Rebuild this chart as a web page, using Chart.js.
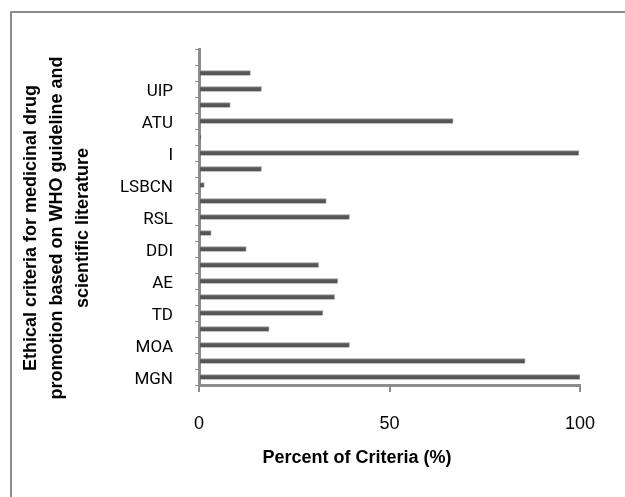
<!DOCTYPE html>
<html>
<head>
<meta charset="utf-8">
<script src="https://cdn.jsdelivr.net/npm/chart.js@4/dist/chart.umd.min.js"></script>
<style>
  html, body { margin: 0; padding: 0; background: #fff; overflow: hidden; }
  #wrap { position: relative; width: 625px; height: 497px; }
</style>
</head>
<body>
<div id="wrap"><canvas id="chart" width="625" height="497"></canvas></div>
<script>
// categories from top to bottom (unlabelled rows are skipped by the source chart)
const criteria = ['', '', 'UIP', '', 'ATU', '', 'I', '', 'LSBCN', '', 'RSL', '', 'DDI', '', 'AE', '', 'TD', '', 'MOA', '', 'MGN'];
const percentValues = [null, 13.5, 16.4, 8.2, 66.7, 0.5, 99.7, 16.4, 1.4, 33.4, 39.5, 3.2, 12.4, 31.4, 36.4, 35.6, 32.5, 18.4, 39.5, 85.6, 100];
const xTicks = [0, 50, 100];

const yTitle = ['Ethical criteria for medicinal drug', 'promotion based on WHO guideline and', 'scientific literature'];
const xTitle = 'Percent of Criteria (%)';

// frame (only top and left edges are inside the picture) and axis titles
const decorations = {
    id: 'decorations',
    beforeDraw(chart) {
        const ctx = chart.ctx;
        ctx.save();
        ctx.strokeStyle = '#8c8c8c';
        ctx.lineWidth = 2;
        ctx.beginPath();
        ctx.moveTo(11, 497);
        ctx.lineTo(11, 12);
        ctx.lineTo(625, 12);
        ctx.stroke();
        ctx.restore();
    },
    afterDraw(chart) {
        const ctx = chart.ctx;
        ctx.save();
        ctx.fillStyle = '#000';
        ctx.font = 'bold 18px "Liberation Sans", Arial, sans-serif';
        ctx.textAlign = 'center';
        ctx.textBaseline = 'middle';
        ctx.fillText(xTitle, 357, 458);
        const lineX = [31, 57, 83];
        yTitle.forEach((line, i) => {
            ctx.save();
            ctx.translate(lineX[i], 228);
            ctx.rotate(-Math.PI / 2);
            ctx.fillText(line, 0, 0);
            ctx.restore();
        });
        ctx.restore();
    }
};

const ctx = document.getElementById('chart').getContext('2d');
new Chart(ctx, {
    type: 'bar',
    data: {
        labels: criteria,
        datasets: [{
            data: percentValues,
            backgroundColor: '#555555',
            borderColor: '#9a9a9a',
            borderWidth: { top: 1, bottom: 0, left: 0, right: 1 },
            borderSkipped: false,
            barThickness: 5,
        }],
    },
    options: {
        indexAxis: 'y',
        responsive: false,
        animation: false,
        layout: { padding: { left: 0, top: 49, right: 45, bottom: 0 } },
        plugins: {
            legend: { display: false },
            tooltip: { enabled: false },
        },
        scales: {
            x: {
                min: 0,
                max: 100,
                afterBuildTicks: (scale) => { scale.ticks = xTicks.map(v => ({ value: v })); },
                afterFit: (scale) => { scale.height = 497 - 385; },
                grid: { drawOnChartArea: false, tickLength: 7, color: '#8c8c8c', lineWidth: 2 },
                border: { color: '#8c8c8c', width: 3 },
                ticks: {
                    color: '#000',
                    padding: 21,
                    font: { family: '"Liberation Sans", Arial, sans-serif', size: 18 },
                },
            },
            y: {
                afterFit: (scale) => { scale.width = 199; },
                grid: { drawOnChartArea: false, offset: true, tickLength: 4, color: '#8c8c8c', lineWidth: 1 },
                border: { color: '#8c8c8c', width: 3 },
                ticks: {
                    autoSkip: false,
                    color: '#000',
                    padding: 22,
                    labelOffset: 3,
                    font: { family: 'Roboto, "Liberation Sans", sans-serif', size: 17 },
                },
            },
        },
    },
    plugins: [decorations],
});
</script>
</body>
</html>
